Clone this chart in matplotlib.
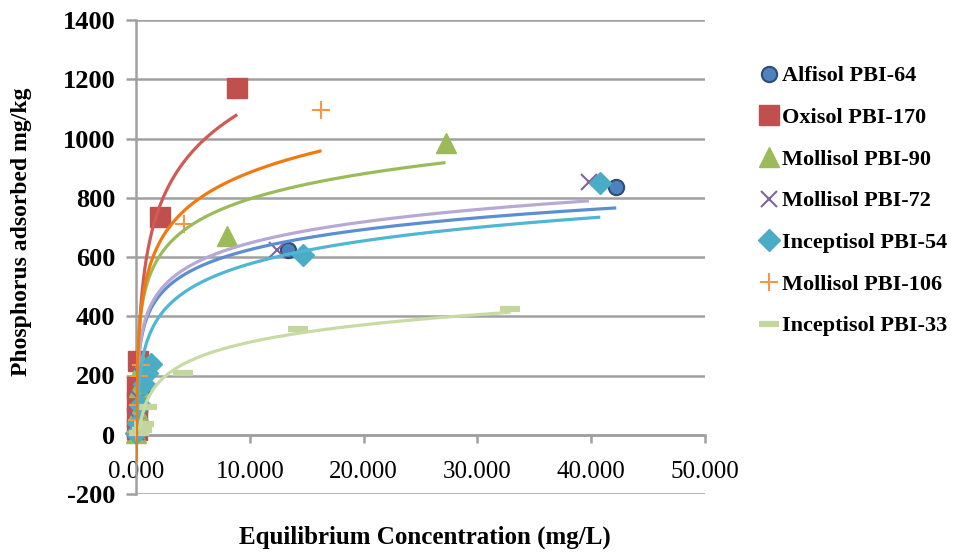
import numpy as np
import matplotlib
matplotlib.use("Agg")
import matplotlib.pyplot as plt
from matplotlib.lines import Line2D

# ---------------- data ----------------
series_names = ["Alfisol PBI-64", "Oxisol PBI-170", "Mollisol PBI-90", "Mollisol PBI-72",
                "Inceptisol PBI-54", "Mollisol PBI-106", "Inceptisol PBI-33"]

alfisol64_x = [0.03, 0.1, 0.25, 0.5, 0.8, 13.4, 42.2]
alfisol64_y = [5, 30, 80, 150, 210, 624, 835]

oxisol170_x = [0.06, 0.08, 0.1, 0.12, 0.15, 2.1, 8.9]
oxisol170_y = [15, 60, 110, 160, 250, 735, 1170]

mollisol90_x = [0.02, 0.15, 0.3, 0.5, 8.0, 27.2]
mollisol90_y = [5, 80, 160, 240, 671, 985]

mollisol72_x = [0.03, 0.1, 0.25, 0.5, 12.4, 39.8]
mollisol72_y = [10, 50, 120, 200, 623, 852]

inceptisol54_x = [0.026, 0.15, 0.35, 0.7, 1.0, 1.3, 14.7, 40.8]
inceptisol54_y = [5, 40, 100, 170, 210, 240, 607, 850]

mollisol106_x = [0.015, 0.05, 0.15, 0.3, 0.45, 4.2, 16.3]
mollisol106_y = [10, 50, 100, 200, 235, 712, 1095]

inceptisol33_x = [0.3, 0.5, 0.7, 1.0, 4.1, 14.2, 32.9]
inceptisol33_y = [5, 15, 35, 95, 210, 356, 425]

# logarithmic trendline coefficients (y = slope*ln(x) + intercept)
trend_slope = [98, 213, 122.5, 103, 112, 150, 84.5]
trend_intercept = [399, 615, 514, 410, 319, 540, 118]

x_ticks = [0, 10, 20, 30, 40, 50]
y_ticks = [-200, 0, 200, 400, 600, 800, 1000, 1200, 1400]

# ---------------- style ----------------
xs = [alfisol64_x, oxisol170_x, mollisol90_x, mollisol72_x, inceptisol54_x, mollisol106_x, inceptisol33_x]
ys = [alfisol64_y, oxisol170_y, mollisol90_y, mollisol72_y, inceptisol54_y, mollisol106_y, inceptisol33_y]

marker_style = [
    dict(marker="o", ms=11, mfc="#4F81BD", mec="#2C4D75", mew=1.5),
    dict(marker="s", ms=14, mfc="#C0504D", mec="#C0504D", mew=1),
    dict(marker="^", ms=14, mfc="#9BBB59", mec="#9BBB59", mew=1),
    dict(marker="x", ms=11, mfc="#8064A2", mec="#8064A2", mew=1.5),
    dict(marker="D", ms=11, mfc="#4BACC6", mec="#4BACC6", mew=1),
    dict(marker="+", ms=13, mfc="#F79646", mec="#F79646", mew=1.5),
    dict(marker="_", ms=14, mfc="#C3D69B", mec="#C3D69B", mew=4.5),
]
trend_colors = ["#5B8FD0", "#D05A56", "#9BBB59", "#B7A9D3", "#4FB6D3", "#F07A10", "#C8DBA5"]

serif = "Liberation Serif"
grid_c = "#A0A0A0"

fig = plt.figure(figsize=(9.65, 5.52), dpi=100)
ax = fig.add_axes([136/965, 1-494/552, (705-136)/965, (494-20)/552])

for i in range(len(series_names)):
    ax.plot(xs[i], ys[i], ls="none", clip_on=False, zorder=3, **marker_style[i])

for i in range(len(series_names)):
    xx = np.linspace(np.log(min(xs[i])), np.log(max(xs[i])), 300)
    xx = np.exp(xx)
    ax.plot(xx, trend_slope[i]*np.log(xx) + trend_intercept[i], color=trend_colors[i],
            lw=2.3, zorder=4, solid_capstyle="butt")

for s in ["top", "right"]:
    ax.spines[s].set_visible(False)
ax.spines["bottom"].set_position(("data", 0))
ax.spines["bottom"].set_color(grid_c)
ax.spines["bottom"].set_linewidth(1.8)
ax.spines["left"].set_color(grid_c)
ax.spines["left"].set_linewidth(1.8)

ax.set_xlim(0, 50)
ax.set_ylim(-200, 1400)
ax.set_xticks(x_ticks)
ax.set_xticklabels([f"{v:.3f}" for v in x_ticks], fontfamily=serif, fontsize=18)
ax.set_yticks(y_ticks)
ax.set_yticklabels([str(v) for v in y_ticks], fontfamily=serif, fontsize=19, fontweight="bold")

ax.grid(axis="y", color=grid_c, lw=1.8, zorder=0)
ax.set_axisbelow(True)
ax.tick_params(axis="x", direction="out", length=6, width=1.8, color=grid_c, pad=13)
ax.tick_params(axis="y", direction="out", length=7, width=1.8, color=grid_c, pad=8)

fig.text(425/965, 1-537/552, "Equilibrium Concentration (mg/L)", ha="center", va="center",
         fontfamily=serif, fontweight="bold", fontsize=18)
fig.text(22/965, 1-232/552, "Phosphorus adsorbed mg/kg", ha="center", va="center", rotation=90,
         fontfamily=serif, fontweight="bold", fontsize=17)

handles = [Line2D([], [], ls="none", **marker_style[i]) for i in range(len(series_names))]
leg = fig.legend(handles, series_names, loc="upper left", bbox_to_anchor=(752/965, 1-57/552),
                 frameon=False, handlelength=0.7, handletextpad=0.25, labelspacing=0.95,
                 borderaxespad=0, prop=dict(family=serif, weight="bold", size=16))

fig.savefig("out.png", dpi=100)
